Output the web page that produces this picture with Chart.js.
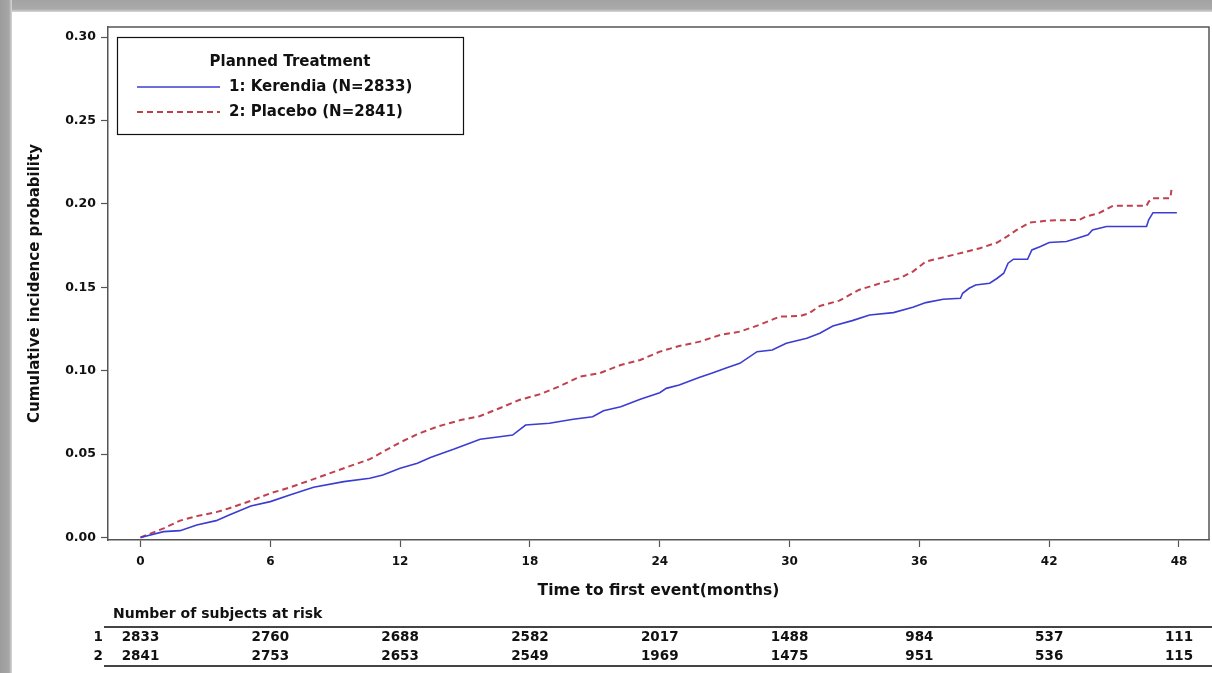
<!DOCTYPE html>
<html>
<head>
<meta charset="utf-8">
<script src="https://cdn.jsdelivr.net/npm/chart.js@4.4.1/dist/chart.umd.min.js"></script>
<style>
  html, body { margin: 0; padding: 0; background: #fff; }
  #wrap { position: relative; width: 1212px; height: 673px; overflow: hidden; }
  #topband { position: absolute; left: 0; top: 0; width: 1212px; height: 12px;
    background: linear-gradient(to bottom, #a3a3a3 0%, #aaaaaa 75%, #d8d8d8 100%); }
  #leftband { position: absolute; left: 0; top: 0; width: 12px; height: 673px;
    background: linear-gradient(to right, #9c9c9c 0%, #a6a6a6 75%, #d8d8d8 100%); }
  canvas { position: absolute; left: 0; top: 0; }
</style>
</head>
<body>
<div id="wrap">
  <div id="topband"></div>
  <div id="leftband"></div>
  <canvas id="kmChart" width="1212" height="673"></canvas>
</div>
<script>
"use strict";
// time to first event (months) and cumulative incidence
var kerendiaTime = [0, 1.07, 1.83, 2.6, 3.5, 4.1, 5.1, 6.0, 6.9, 8.0, 9.4, 10.6, 11.2, 12.0, 12.8, 13.4,
    14.5, 15.7, 16.6, 17.2, 17.8, 18.9, 20.0, 20.9, 21.4, 22.2, 23.1, 24.0, 24.3, 24.9, 25.85, 26.4,
    27.1, 27.7, 28.5, 29.2, 29.85, 30.8, 31.4, 32.0, 32.9, 33.7, 34.8, 35.7, 36.3, 37.1, 37.9, 38.0, 38.3,
    38.6, 39.25, 39.6, 39.9, 40.1, 40.35, 41.0, 41.2, 41.6, 42.0, 42.8, 43.3, 43.8, 44.0, 44.65, 46.5, 46.6, 46.8, 47.9];
var kerendiaCI = [0, 0.0035, 0.0041, 0.0075, 0.0101, 0.0135, 0.0189, 0.0215, 0.0255, 0.0301, 0.0335, 0.0355, 0.0375, 0.0415, 0.0445, 0.048,
    0.053, 0.0589, 0.0604, 0.0614, 0.0674, 0.0685, 0.0709, 0.0724, 0.076, 0.0784, 0.0829, 0.0868, 0.0894, 0.0914, 0.096, 0.0985,
    0.1017, 0.1044, 0.1114, 0.1124, 0.1164, 0.1194, 0.1224, 0.1268, 0.13, 0.1334, 0.1348, 0.138, 0.1408, 0.1428, 0.1434, 0.1464, 0.1494,
    0.1514, 0.1524, 0.1554, 0.1584, 0.1644, 0.1668, 0.1668, 0.1724, 0.1744, 0.1768, 0.1774, 0.1794, 0.1814, 0.1844, 0.1864, 0.1864, 0.1904, 0.1947, 0.1947];

var placeboTime = [0, 1.07, 1.83, 2.6, 3.5, 4.1, 5.1, 6.0, 6.9, 8.0, 9.4, 10.6, 11.3, 12.0, 12.9, 13.8,
    14.8, 15.7, 16.6, 17.5, 18.5, 19.4, 20.3, 21.2, 22.2, 23.1, 24.0, 24.9, 25.85, 26.8, 27.7, 28.6,
    29.55, 30.5, 30.9, 31.4, 32.3, 33.2, 34.2, 35.1, 35.7, 36.3, 37.25, 38.2, 38.8, 39.6, 40.0, 40.5,
    41.1, 42.0, 43.4, 43.7, 44.3, 44.65, 44.95, 46.5, 46.6, 46.8, 47.6, 47.65];
var placeboCI = [0, 0.0055, 0.0101, 0.0128, 0.0152, 0.0175, 0.022, 0.0265, 0.030, 0.035, 0.0415, 0.047, 0.052, 0.057, 0.0625, 0.0668,
    0.0704, 0.0728, 0.0775, 0.0824, 0.086, 0.0908, 0.0964, 0.0984, 0.1034, 0.1064, 0.1114, 0.1148, 0.1174, 0.1214, 0.1234, 0.1274,
    0.1324, 0.1328, 0.1344, 0.1388, 0.142, 0.1484, 0.1524, 0.1554, 0.1594, 0.1654, 0.1684, 0.1714, 0.1734, 0.1768, 0.18, 0.1844,
    0.1888, 0.19, 0.1904, 0.1924, 0.1944, 0.1968, 0.1988, 0.1988, 0.2013, 0.2034, 0.2034, 0.2083];

var seriesLabels = ["1: Kerendia (N=2833)", "2: Placebo (N=2841)"];
var xTicks = [0, 6, 12, 18, 24, 30, 36, 42, 48];
var yTicks = [0, 0.05, 0.10, 0.15, 0.20, 0.25, 0.30];

// number of subjects at risk
var riskMonths = [0, 6, 12, 18, 24, 30, 36, 42, 48];
var riskKerendia = [2833, 2760, 2688, 2582, 2017, 1488, 984, 537, 111];
var riskPlacebo = [2841, 2753, 2653, 2549, 1969, 1475, 951, 536, 115];

var FONT = "'DejaVu Sans', Verdana, sans-serif";
var BLUE = "#3c3cd2";
var RED = "#c0404e";

function toPoints(t, v) {
    return t.map(function (x, i) { return { x: x, y: v[i] }; });
}

var framePlugin = {
    id: "frame",
    afterDraw: function (chart) {
        var ctx = chart.ctx;
        var a = chart.chartArea;
        ctx.save();
        ctx.strokeStyle = "#555";
        ctx.lineWidth = 1.5;
        ctx.beginPath();
        ctx.moveTo(a.left, a.top);
        ctx.lineTo(a.right, a.top);
        ctx.lineTo(a.right, a.bottom);
        ctx.stroke();

        // legend box
        var lx = 117, ly = 37, lw = 346, lh = 97;
        ctx.fillStyle = "#fff";
        ctx.fillRect(lx, ly, lw, lh);
        ctx.strokeStyle = "#111";
        ctx.lineWidth = 1.2;
        ctx.strokeRect(lx + 0.5, ly + 0.5, lw, lh);
        ctx.fillStyle = "#111";
        ctx.textBaseline = "middle";
        ctx.textAlign = "center";
        ctx.font = "bold 15px " + FONT;
        ctx.fillText("Planned Treatment", 290, 62);
        ctx.textAlign = "left";
        var ds = chart.data.datasets;
        var rowsY = [87, 112];
        ds.forEach(function (d, i) {
            ctx.strokeStyle = d.borderColor;
            ctx.lineWidth = d.borderWidth;
            ctx.setLineDash(d.borderDash || []);
            ctx.beginPath();
            ctx.moveTo(137, rowsY[i]);
            ctx.lineTo(220, rowsY[i]);
            ctx.stroke();
            ctx.setLineDash([]);
            ctx.fillText(d.label, 229, rowsY[i]);
        });

        // risk table
        var xs = chart.scales.x;
        ctx.font = "bold 14px " + FONT;
        ctx.textAlign = "left";
        ctx.fillText("Number of subjects at risk", 113, 614);
        ctx.strokeStyle = "#444";
        ctx.lineWidth = 2;
        ctx.beginPath();
        ctx.moveTo(104, 627);
        ctx.lineTo(1212, 627);
        ctx.moveTo(104, 666);
        ctx.lineTo(1212, 666);
        ctx.stroke();
        ctx.font = "bold 13.5px " + FONT;
        ctx.textAlign = "right";
        ctx.fillText("1", 103, 637);
        ctx.fillText("2", 103, 656);
        ctx.textAlign = "center";
        riskMonths.forEach(function (m, i) {
            var px = xs.getPixelForValue(m);
            ctx.fillText(String(riskKerendia[i]), px, 637);
            ctx.fillText(String(riskPlacebo[i]), px, 656);
        });
        ctx.restore();
    }
};

var ctx = document.getElementById("kmChart").getContext("2d");
var myChart = new Chart(ctx, {
    type: "line",
    data: {
        datasets: [
            {
                label: seriesLabels[0],
                data: toPoints(kerendiaTime, kerendiaCI),
                borderColor: BLUE,
                borderWidth: 1.6,
                tension: 0,
                pointRadius: 0,
                fill: false,
            },
            {
                label: seriesLabels[1],
                data: toPoints(placeboTime, placeboCI),
                borderColor: RED,
                borderWidth: 2,
                borderDash: [6, 4],
                tension: 0,
                pointRadius: 0,
                fill: false,
            },
        ],
    },
    options: {
        responsive: false,
        animation: false,
        layout: { padding: { left: 22, top: 27, right: 3, bottom: 73 } },
        plugins: {
            legend: { display: false },
            tooltip: { enabled: false },
        },
        scales: {
            x: {
                type: "linear",
                min: -1.502,
                max: 49.387,
                afterBuildTicks: function (s) {
                    s.ticks = xTicks.map(function (v) { return { value: v }; });
                },
                afterFit: function (s) { s.height = 60; },
                ticks: {
                    font: { family: FONT, size: 12, weight: "bold" },
                    color: "#111",
                    padding: 8,
                    maxRotation: 0,
                },
                grid: { drawOnChartArea: false, tickLength: 7, color: "#555", tickWidth: 1.2 },
                border: { color: "#555", width: 1.5 },
                title: {
                    display: true,
                    text: "Time to first event(months)",
                    font: { family: FONT, size: 15.5, weight: "bold" },
                    color: "#111",
                    padding: { top: 0, bottom: 0 },
                },
            },
            y: {
                min: -0.0015,
                max: 0.306,
                afterBuildTicks: function (s) {
                    s.ticks = yTicks.map(function (v) { return { value: v }; });
                },
                afterFit: function (s) { s.width = 86; },
                ticks: {
                    callback: function (v) { return v.toFixed(2); },
                    font: { family: FONT, size: 12.5, weight: "bold" },
                    color: "#111",
                    padding: 5,
                },
                grid: { drawOnChartArea: false, tickLength: 7, color: "#555", tickWidth: 1.2 },
                border: { color: "#555", width: 1.5 },
                title: {
                    display: true,
                    text: "Cumulative incidence probability",
                    font: { family: FONT, size: 15, weight: "bold" },
                    color: "#111",
                    padding: { top: 4, bottom: 0 },
                },
            },
        },
    },
    plugins: [framePlugin],
});
</script>
</body>
</html>
